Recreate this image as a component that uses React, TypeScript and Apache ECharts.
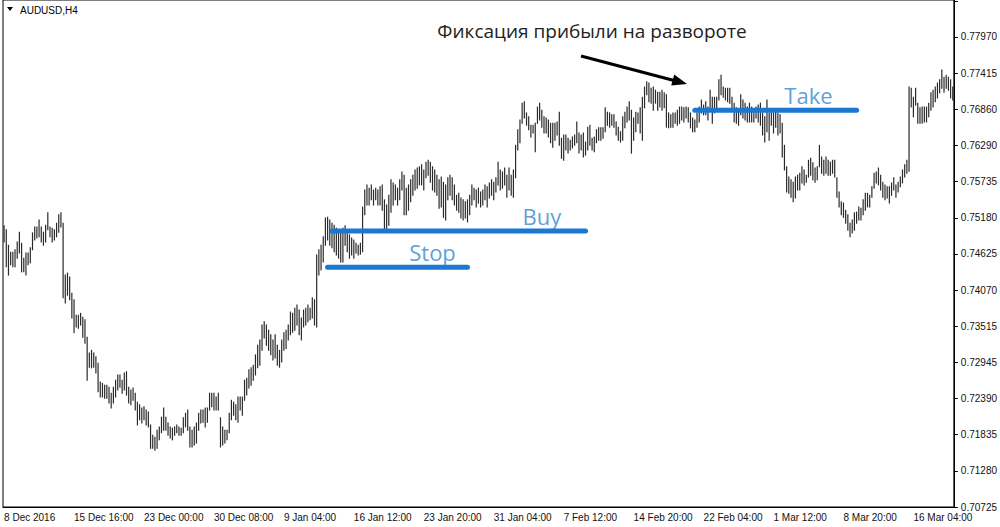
import React, { useEffect, useRef } from "react";
import * as echarts from "echarts";

const xTickLabels = [
  "8 Dec 2016", "15 Dec 16:00", "23 Dec 00:00", "30 Dec 08:00", "9 Jan 04:00",
  "16 Jan 12:00", "23 Jan 20:00", "31 Jan 04:00", "7 Feb 12:00", "14 Feb 20:00",
  "22 Feb 04:00", "1 Mar 12:00", "8 Mar 20:00", "16 Mar 04:00",
];
const xTickEvery = 32;

const yTickLabels = [
  "0.70725", "0.71280", "0.71835", "0.72390", "0.72945", "0.73515", "0.74070",
  "0.74625", "0.75180", "0.75735", "0.76290", "0.76860", "0.77415", "0.77970",
];
const yMin = 0.70725;
const yStep = 0.0055731;
const yMax = 0.785403;

// H4 bar highs / lows, in pips (x 0.0001)
const highs = [
  // 8 Dec – 13 Dec
  7506, 7500, 7476, 7465, 7465, 7469, 7481, 7496, 7479, 7456, 7464, 7464, 7472, 7495,
  7504, 7504, 7515, 7504, 7496, 7507, 7526, 7504, 7502, 7500, 7510, 7523, 7526, 7510,
  // decline to the Dec low
  7430, 7433, 7427, 7402, 7392, 7368, 7368, 7371, 7365, 7361,
  7334, 7310, 7314, 7310, 7304, 7294, 7265, 7263, 7260, 7260,
  7257, 7248, 7257, 7268, 7276, 7276, 7268, 7279, 7281, 7257,
  7253, 7256, 7248, 7234, 7230, 7225, 7227, 7222, 7219, 7199,
  7183, 7180, 7191, 7196, 7211, 7225, 7211, 7202, 7196, 7194,
  7196, 7199, 7196, 7194, 7210, 7217, 7222, 7196, 7191, 7196,
  7202, 7217, 7222, 7222, 7225, 7225, 7248, 7248, 7248, 7242,
  7248, 7210, 7196, 7191, 7191, 7217, 7237, 7234, 7230, 7242,
  7242,
  // January rally
  7242, 7268, 7271, 7284, 7287, 7291, 7307, 7322, 7330, 7353,
  7358, 7353, 7345, 7338, 7330, 7338, 7322, 7314, 7330, 7341,
  7345, 7353, 7373, 7371, 7379, 7384, 7376, 7364, 7376, 7379,
  7384, 7379, 7395, 7392, 7461, 7469, 7476, 7489, 7518, 7519,
  7515, 7510, 7507, 7502, 7499, 7496, 7502, 7506, 7499, 7492,
  7487, 7484, 7479, 7476, 7479, 7535, 7561, 7569, 7564, 7569,
  7561, 7564, 7561, 7566, 7569, 7546, 7538, 7553, 7577, 7572,
  7569, 7564, 7577, 7589, 7584, 7564, 7569, 7577, 7584, 7592,
  7595, 7597, 7600, 7592, 7604, 7607, 7604, 7597, 7592, 7584,
  7577,
  // late Jan – Feb
  7581, 7573, 7569, 7580, 7584, 7580, 7569, 7553, 7556, 7549,
  7546, 7543, 7546, 7553, 7569, 7564, 7561, 7564, 7558, 7561,
  7569, 7566, 7572, 7577, 7573, 7580, 7604, 7592, 7589, 7595,
  7584, 7595, 7584, 7592, 7630, 7654, 7669, 7695, 7697, 7680,
  7674, 7661, 7661, 7664, 7689, 7695, 7684, 7674, 7672, 7669,
  7664, 7664, 7664, 7666, 7681, 7641, 7646, 7646, 7641, 7638,
  7643, 7646, 7666, 7649, 7646, 7649, 7635, 7658, 7661, 7641,
  7643, 7654, 7657, 7657, 7657, 7688, 7681, 7680, 7677, 7677,
  7666, 7658, 7651, 7674, 7681, 7689, 7697, 7684, 7672, 7681,
  7680, 7688, 7704, 7720, 7728, 7726, 7718, 7720, 7715, 7712,
  7712, 7715, 7711, 7708, 7680, 7677, 7680, 7680, 7684, 7689,
  7689, 7688, 7689, 7688, 7680, 7672, 7669, 7680,
  // late Feb – March
  7689, 7700, 7692, 7697, 7689, 7715, 7704, 7704, 7704, 7731,
  7738, 7720, 7718, 7718, 7718, 7704, 7695, 7688, 7684, 7708,
  7700, 7695, 7689, 7695, 7689, 7684, 7689, 7692, 7695, 7680,
  7674, 7700, 7680, 7684, 7680, 7681, 7680, 7677, 7664, 7630,
  7597, 7581, 7577, 7573, 7581, 7584, 7587, 7597, 7592, 7584,
  7607, 7610, 7603, 7595, 7597, 7630, 7612, 7607, 7612, 7607,
  7604, 7607, 7607, 7580, 7558, 7543, 7541, 7530, 7523, 7510,
  7515, 7526, 7527, 7535, 7533, 7546, 7556, 7556, 7553, 7566,
  7587, 7589, 7595, 7584, 7573, 7569, 7566, 7566, 7572, 7580,
  7569, 7573, 7581, 7592, 7600, 7607, 7720, 7718, 7704, 7718,
  7695, 7688, 7689, 7689, 7689, 7695, 7711, 7715, 7720, 7726,
  7731, 7746, 7735, 7738, 7735, 7731, 7720,
];

const lows = [
  7481, 7443, 7430, 7446, 7443, 7443, 7456, 7464, 7435, 7435, 7430, 7446, 7449, 7469,
  7484, 7487, 7489, 7481, 7476, 7481, 7500, 7489, 7481, 7484, 7489, 7496, 7504, 7395,
  7387, 7399, 7392, 7364, 7341, 7350, 7348, 7353, 7334, 7325,
  7268, 7288, 7287, 7288, 7279, 7250, 7242, 7242, 7240, 7240,
  7233, 7225, 7233, 7242, 7253, 7257, 7248, 7253, 7245, 7233,
  7230, 7237, 7222, 7199, 7207, 7202, 7207, 7199, 7196, 7163,
  7163, 7160, 7163, 7176, 7187, 7191, 7191, 7183, 7179, 7176,
  7183, 7187, 7183, 7183, 7187, 7196, 7191, 7165, 7165, 7168,
  7171, 7191, 7202, 7203, 7196, 7203, 7222, 7227, 7222, 7222,
  7222, 7165, 7168, 7171, 7176, 7187, 7207, 7214, 7207, 7203,
  7222,
  7214, 7237, 7245, 7256, 7260, 7268, 7276, 7287, 7291, 7314,
  7333, 7322, 7314, 7307, 7299, 7302, 7291, 7288, 7296, 7314,
  7317, 7330, 7338, 7342, 7345, 7353, 7338, 7330, 7350, 7353,
  7358, 7361, 7364, 7353, 7350, 7430, 7438, 7450, 7476, 7484,
  7476, 7472, 7466, 7461, 7456, 7450, 7450, 7476, 7466, 7456,
  7461, 7456, 7464, 7461, 7462, 7466, 7523, 7538, 7538, 7546,
  7538, 7546, 7538, 7538, 7530, 7499, 7499, 7507, 7527, 7538,
  7546, 7538, 7546, 7561, 7523, 7523, 7530, 7543, 7553, 7561,
  7564, 7569, 7569, 7561, 7580, 7584, 7573, 7561, 7558, 7553,
  7533,
  7535, 7519, 7515, 7546, 7553, 7546, 7538, 7530, 7527, 7518,
  7515, 7518, 7512, 7523, 7538, 7546, 7535, 7541, 7535, 7538,
  7546, 7535, 7549, 7553, 7546, 7558, 7569, 7561, 7564, 7569,
  7550, 7561, 7553, 7550, 7580, 7623, 7634, 7664, 7672, 7661,
  7654, 7643, 7649, 7620, 7664, 7669, 7658, 7649, 7649, 7643,
  7634, 7627, 7638, 7646, 7630, 7610, 7607, 7623, 7618, 7623,
  7626, 7630, 7634, 7618, 7623, 7612, 7615, 7623, 7630, 7623,
  7620, 7634, 7638, 7638, 7641, 7651, 7661, 7658, 7661, 7658,
  7646, 7638, 7635, 7638, 7657, 7666, 7669, 7618, 7638, 7651,
  7664, 7649, 7638, 7688, 7708, 7697, 7695, 7684, 7695, 7684,
  7689, 7684, 7688, 7658, 7657, 7658, 7658, 7664, 7661, 7664,
  7669, 7666, 7672, 7666, 7657, 7651, 7651, 7658,
  7666, 7680, 7677, 7677, 7669, 7684, 7664, 7680, 7688, 7700,
  7708, 7704, 7700, 7697, 7695, 7684, 7666, 7664, 7661, 7677,
  7672, 7669, 7666, 7666, 7666, 7666, 7672, 7666, 7661, 7646,
  7635, 7651, 7638, 7661, 7649, 7658, 7646, 7649, 7612, 7592,
  7558, 7556, 7550, 7543, 7549, 7561, 7561, 7572, 7569, 7573,
  7581, 7584, 7577, 7573, 7577, 7597, 7587, 7584, 7587, 7584,
  7584, 7587, 7581, 7550, 7535, 7523, 7519, 7510, 7499, 7489,
  7495, 7499, 7510, 7515, 7515, 7523, 7530, 7535, 7535, 7550,
  7564, 7572, 7569, 7561, 7550, 7546, 7549, 7541, 7553, 7561,
  7550, 7558, 7566, 7572, 7581, 7587, 7590, 7689, 7674, 7692,
  7664, 7664, 7664, 7666, 7666, 7674, 7684, 7689, 7697, 7703,
  7711, 7718, 7712, 7718, 7715, 7703, 7700,
];

// Trade annotation levels: price, first bar, last bar
const buyLevel = { price: 0.7498, from: 150, to: 266 };
const stopLevel = { price: 0.7442, from: 148, to: 212 };
const takeLevel = { price: 0.7684, from: 316, to: 390 };
const levelLabels = [
  { name: "Buy", bar: 246, price: 0.7521 },
  { name: "Stop", bar: 196, price: 0.7466 },
  { name: "Take", bar: 368, price: 0.7708 },
];

const BLUE = "#1a78d2";
const LABEL_BLUE = "#2f87cf";
const AXIS_FONT = "Liberation Sans";

export default function App() {
  const ref = useRef<HTMLDivElement>(null);

  useEffect(() => {
    if (!ref.current) return;
    const chart = echarts.init(ref.current, null, { renderer: "svg" });
    const n = highs.length;
    const categories = Array.from({ length: n }, (_, i) => String(i));
    const bars = highs.map((h, i) => [i, h / 10000, lows[i] / 10000]);

    const levelSeries = (lv: { price: number; from: number; to: number }) => ({
      type: "line",
      data: [
        [lv.from, lv.price],
        [lv.to, lv.price],
      ],
      symbol: "none",
      silent: true,
      lineStyle: { color: BLUE, width: 5, cap: "round" },
      z: 5,
    });

    const option: any = {
      animation: false,
      backgroundColor: "#ffffff",
      grid: {
        left: 3,
        right: 46,
        top: 0,
        bottom: 20,
        show: true,
        borderColor: "#000",
        borderWidth: 1,
        containLabel: false,
      },
      xAxis: {
        type: "category",
        data: categories,
        boundaryGap: true,
        axisLine: { lineStyle: { color: "#000", width: 1 } },
        axisTick: {
          alignWithLabel: true,
          length: 4,
          interval: (i: number) => i % xTickEvery === 0,
          lineStyle: { color: "#000" },
        },
        axisLabel: {
          interval: (i: number) => i % xTickEvery === 0,
          formatter: (_v: string, i: number) => xTickLabels[i / xTickEvery] ?? "",
          align: "left",
          margin: 5,
          fontSize: 10,
          fontFamily: AXIS_FONT,
          color: "#111",
        },
        splitLine: { show: false },
      },
      yAxis: {
        type: "value",
        position: "right",
        min: yMin,
        max: yMax,
        interval: yStep,
        axisLine: { show: true, lineStyle: { color: "#000", width: 1 } },
        axisTick: { show: true, length: 4, lineStyle: { color: "#000" } },
        axisLabel: {
          margin: 7,
          fontSize: 10,
          fontFamily: AXIS_FONT,
          color: "#111",
          showMaxLabel: false,
          formatter: (v: number) => {
            const k = Math.round((v - yMin) / yStep);
            if (Math.abs(v - (yMin + k * yStep)) > yStep * 0.1) return "";
            return yTickLabels[k] ?? "";
          },
        },
        splitLine: { show: false },
      },
      series: [
        {
          type: "custom",
          data: bars,
          encode: { x: 0, y: [1, 2] },
          clip: true,
          silent: true,
          renderItem: (_p: any, api: any) => {
            const i = api.value(0);
            const hi = api.coord([i, api.value(1)]);
            const lo = api.coord([i, api.value(2)]);
            return {
              type: "line",
              shape: { x1: hi[0], y1: hi[1] - 0.5, x2: lo[0], y2: lo[1] + 0.5 },
              style: { stroke: "#2a2a2a", lineWidth: 1.2 },
            };
          },
        },
        levelSeries(buyLevel),
        levelSeries(stopLevel),
        levelSeries(takeLevel),
        {
          type: "scatter",
          data: levelLabels.map((l) => ({ name: l.name, value: [l.bar, l.price] })),
          symbolSize: 1,
          itemStyle: { color: "rgba(0,0,0,0)" },
          silent: true,
          z: 6,
          label: {
            show: true,
            position: "inside",
            formatter: "{b}",
            fontSize: 22,
            fontFamily: "Open Sans",
            color: LABEL_BLUE,
          },
        },
      ],
      graphic: [
        {
          type: "polygon",
          shape: { points: [[7, 7], [13, 7], [10, 11]] },
          style: { fill: "#000" },
        },
        {
          type: "text",
          x: 20,
          y: 10,
          style: {
            text: "AUDUSD,H4",
            font: `10px "${AXIS_FONT}"`,
            fill: "#000",
            verticalAlign: "middle",
          },
        },
        {
          type: "text",
          x: 592,
          y: 31,
          style: {
            text: "Фиксация прибыли на развороте",
            font: '19px "Open Sans"',
            fill: "#222",
            align: "center",
            verticalAlign: "middle",
          },
        },
        {
          type: "line",
          shape: { x1: 581, y1: 56, x2: 674, y2: 80.5 },
          style: { stroke: "#000", lineWidth: 3 },
        },
        {
          type: "polygon",
          shape: { points: [[687, 84], [671.2, 85.5], [674.2, 74.6]] },
          style: { fill: "#000" },
        },
      ],
    };

    chart.setOption(option);
    return () => chart.dispose();
  }, []);

  return (
    <div
      ref={ref}
      style={{ position: "fixed", left: 0, top: 0, width: 1000, height: 527, background: "#fff" }}
    />
  );
}
